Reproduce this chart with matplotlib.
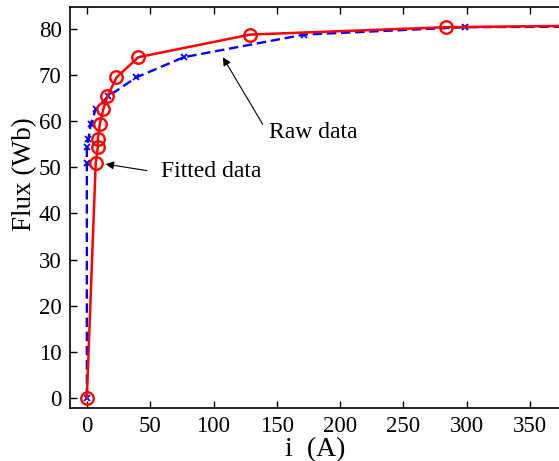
import matplotlib
matplotlib.use("Agg")
import matplotlib.pyplot as plt

plt.rcParams["font.family"] = ["Liberation Serif", "DejaVu Serif"]

# -------- Data --------
fit_i = [0, 7, 8.7, 8.7, 10.2, 13, 16.3, 23.4, 40.7, 129, 283.5, 450]
fit_flux = [0, 50.9, 54.4, 56.2, 59.4, 62.6, 65.4, 69.5, 73.9, 78.8, 80.4, 80.9]

raw_i = [0, 0, 0, 1.3, 3.1, 7, 16.8, 39, 76.6, 171.7, 298.4, 450]
raw_flux = [0, 50.9, 54.4, 56.2, 59.4, 62.6, 65.4, 69.5, 73.9, 78.8, 80.4, 80.6]

xticks = [0, 50, 100, 150, 200, 250, 300, 350]
yticks = [0, 10, 20, 30, 40, 50, 60, 70, 80]

# -------- Plot --------
fig = plt.figure(figsize=(5.59, 4.61), dpi=100)
ax = fig.add_axes([0.125, 0.115, 0.982, 0.870])

ax.plot(raw_i, raw_flux, color="blue", linestyle="--", linewidth=1.7,
        marker="x", markersize=4, markeredgewidth=1.3, dashes=(4, 2))
ax.plot(fit_i, fit_flux, color="red", linestyle="-", linewidth=1.8,
        marker="o", markersize=9, markerfacecolor="none", markeredgewidth=1.7)

ax.set_xlim(-13.4, 420)
ax.set_ylim(-2.2, 84.8)
ax.set_xticks(xticks)
ax.set_yticks(yticks)
ax.tick_params(direction="in", length=5, width=1, labelsize=16.5,
               top=True, right=True, pad=6)
for s in ax.spines.values():
    s.set_linewidth(1.2)

ax.set_xlabel("i  (A)", fontsize=20)
ax.xaxis.set_label_coords(0.4465, -0.072)
ax.set_ylabel("Flux (Wb)", fontsize=19.5)
ax.yaxis.set_label_coords(-0.059, 0.584)

# Annotations
arrow = dict(arrowstyle="-|>", color="black", linewidth=0.8, mutation_scale=12)
ax.annotate("", xy=(106.3, 74.4), xytext=(140, 58.8), arrowprops=arrow)
ax.text(144, 57.5, "Raw data", fontsize=17, va="center", ha="left")
ax.annotate("", xy=(12.6, 50.8), xytext=(49.6, 49.2), arrowprops=arrow)
ax.text(58.3, 49.0, "Fitted data", fontsize=17, va="center", ha="left")

fig.savefig("out.png", dpi=100)
